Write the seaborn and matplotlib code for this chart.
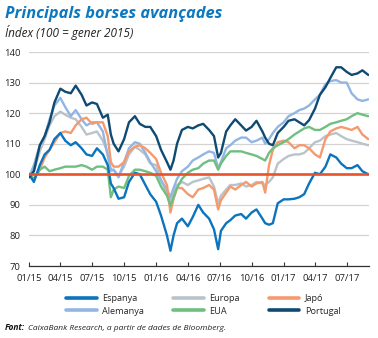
import numpy as np
import pandas as pd
import matplotlib
matplotlib.use("Agg")
import matplotlib.pyplot as plt
import seaborn as sns
from matplotlib.lines import Line2D

# ---- data (index 100 = Jan 2015) ----
dates = [
    "2015-01-01", "2015-01-15", "2015-02-01", "2015-02-15", "2015-03-01", "2015-03-15",
    "2015-04-01", "2015-04-15", "2015-05-01", "2015-05-15", "2015-06-01", "2015-06-15",
    "2015-07-01", "2015-07-15", "2015-08-01", "2015-08-15", "2015-08-24", "2015-09-01",
    "2015-09-15", "2015-10-01", "2015-10-15", "2015-11-01", "2015-11-15", "2015-12-01",
    "2015-12-15", "2016-01-01", "2016-01-15", "2016-02-01", "2016-02-11", "2016-02-20",
    "2016-03-01", "2016-03-15", "2016-04-01", "2016-04-15", "2016-05-01", "2016-05-15",
    "2016-06-01", "2016-06-15", "2016-06-27", "2016-07-05", "2016-07-20", "2016-08-01",
    "2016-08-15", "2016-09-01", "2016-09-15", "2016-10-01", "2016-10-15", "2016-11-01",
    "2016-11-09", "2016-11-20", "2016-12-01", "2016-12-15", "2017-01-01", "2017-01-15",
    "2017-02-01", "2017-02-15", "2017-03-01", "2017-03-15", "2017-04-01", "2017-04-15",
    "2017-05-01", "2017-05-15", "2017-06-01", "2017-06-15", "2017-07-01", "2017-07-15",
    "2017-08-01", "2017-08-15", "2017-09-01",
]

espanya = [
    100, 97.5, 103, 106.5, 108, 111.5, 113.5, 111, 109.5, 110.5, 108.5, 106.5,
    106, 108.5, 106.5, 103, 97, 95.5, 92, 92.5, 97.5, 100.5, 100, 96.5,
    93.5, 91, 86.5, 80, 75, 80, 84, 85.5, 83, 86, 90, 87.5,
    85.5, 82, 75.5, 81.5, 84, 85, 86.5, 87, 85.5, 87.5, 88.5, 85.5,
    84, 83.5, 84, 90.5, 91.8, 91.8, 92, 92.5, 93.5, 97, 100.5, 100,
    102.5, 106.5, 105.5, 103.5, 102, 102, 103, 101, 100,
]

europa = [
    100, 101, 107.5, 111.5, 116, 119, 120.5, 119.5, 118.5, 118, 115.5, 113,
    113.5, 114, 111, 107, 101, 101.5, 99.5, 102.5, 106.5, 109, 108, 106.5,
    103.5, 103, 98, 94, 90.8, 94, 96.5, 97.5, 96.5, 97.5, 98, 98.5,
    99, 96, 90.5, 93, 95, 96.5, 96.5, 97, 96, 96.5, 97.5, 97,
    96.5, 97.5, 99, 103.5, 105, 106, 106.5, 106.5, 107, 108.5, 110.5, 111,
    112.5, 113, 113.5, 112.5, 111.5, 111, 110.5, 110, 109.5,
]

japo = [
    100, 98.5, 101.5, 105.5, 108, 110.5, 113.5, 114, 113.5, 116, 118, 118.5,
    116.5, 117, 117, 112.5, 104, 102.5, 102.5, 104, 107.5, 109, 109.5, 108.5,
    107, 105, 100.5, 96.5, 87.5, 92, 95.5, 95.5, 93.5, 92.5, 95, 95.5,
    96.5, 95, 88.5, 91.5, 94, 96, 95, 96.5, 97.5, 96, 97, 97.5,
    94, 103, 108, 110.5, 111, 110.5, 108.5, 109.5, 109.5, 108.5, 106.5, 105.5,
    111.5, 114, 115, 115.5, 115, 114.5, 115.5, 113, 111.5,
]

alemanya = [
    99, 103, 109.5, 112.5, 118, 122.5, 125, 122, 119, 121, 118, 116,
    117, 117, 114, 106, 101.5, 101.5, 99, 104, 108.5, 110.5, 110, 107,
    104, 101, 98, 95, 92.5, 95.5, 98.5, 101, 102.5, 104.5, 105.5, 106.5,
    107.5, 107, 102, 104, 108.5, 109.5, 111, 112, 112, 110.5, 111, 112,
    110, 111.5, 113.5, 115.5, 117, 119, 120, 121, 121.5, 122.5, 124.5, 126,
    129.5, 130.5, 130.8, 130, 130, 126.5, 124.5, 124, 124.5,
]

eua = [
    100, 98.5, 101.5, 102.5, 101, 101.5, 102, 102.5, 102.5, 102.5, 103, 102.5,
    101.5, 102.5, 102.5, 101.5, 92.5, 95, 96, 95.5, 99.5, 101.5, 101.5, 101,
    100.5, 99.5, 96, 93, 89.7, 92.5, 95.5, 98.5, 100.5, 101.5, 102, 103.5,
    104.5, 104.5, 101.5, 103.5, 106, 107.5, 107.5, 107.5, 107, 106.5, 106, 105,
    104.5, 107, 108.5, 109.5, 110.5, 111.5, 113, 114, 115, 115.5, 114.5, 114.5,
    115.5, 116.5, 117, 117.5, 118, 119, 120, 119.5, 119,
]

portugal = [
    99, 101, 109.5, 112.5, 117, 123.5, 128, 127, 126.5, 129, 126, 122.5,
    123.5, 123, 118.5, 119.5, 113, 110, 107.5, 111.5, 117, 119, 116.5, 115.5,
    115.5, 112.5, 108, 104, 101.5, 104.5, 110, 114.5, 115.5, 115, 116, 116.5,
    114.5, 112.5, 105.5, 107, 114, 116, 118, 116, 114.3, 115.5, 117.5, 114,
    112, 110, 109.5, 113.5, 115.5, 117.5, 118, 117, 116, 117.7, 121.5, 126,
    128.5, 131.5, 135, 135, 133.5, 132.5, 133, 134, 132.5,
]

series_names = ["Espanya", "Europa", "Japó", "Alemanya", "EUA", "Portugal"]
series_colors = ["#0b74bd", "#b9c3c9", "#f59a6f", "#92b6e4", "#6fbf80", "#0e4a72"]
tick_dates = ["2015-01-01", "2015-04-01", "2015-07-01", "2015-10-01", "2016-01-01",
              "2016-04-01", "2016-07-01", "2016-10-01", "2017-01-01", "2017-04-01",
              "2017-07-01"]
tick_labels = ["01/15", "04/15", "07/15", "10/15", "01/16", "04/16", "07/16",
               "10/16", "01/17", "04/17", "07/17"]
y_ticks = [70, 80, 90, 100, 110, 120, 130, 140]

# ---- build long table ----
wide = pd.DataFrame({
    "date": pd.to_datetime(dates),
    "Espanya": espanya, "Europa": europa, "Japó": japo,
    "Alemanya": alemanya, "EUA": eua, "Portugal": portugal,
})
df = wide.melt(id_vars="date", var_name="serie", value_name="valor")
palette = dict(zip(series_names, series_colors))

sns.set_theme(style="white")
plt.rcParams['font.family'] = ['Open Sans', 'DejaVu Sans']

W, H = 378, 338
fig = plt.figure(figsize=(W / 100, H / 100), dpi=100)
ax = fig.add_axes([29 / W, 72 / H, 340 / W, 214 / H])

draw_order = ["Europa", "Alemanya", "Japó", "EUA", "Espanya", "Portugal"]
sns.lineplot(data=df, x="date", y="valor", hue="serie", hue_order=draw_order,
             palette=palette, linewidth=1.7, ax=ax, legend=False)

ax.axhline(100, color="#e8532b", lw=1.9, zorder=10)

ax.set_ylim(70, 140)
ax.set_xlim(pd.Timestamp("2015-01-01"), pd.Timestamp("2017-09-03"))
ax.set_yticks(y_ticks)
ax.set_yticklabels([str(v) for v in y_ticks])
ax.set_xticks(pd.to_datetime(tick_dates))
ax.set_xticklabels(tick_labels)
ax.set_xlabel("")
ax.set_ylabel("")

ax.grid(axis="y", color="#d3d3d3", lw=0.9)
ax.grid(axis="x", visible=False)
for s in ["left", "right", "top"]:
    ax.spines[s].set_visible(False)
ax.spines["bottom"].set_color("#333333")
ax.spines["bottom"].set_linewidth(0.9)
ax.spines["bottom"].set_zorder(11)

ax.tick_params(axis="y", length=0, pad=6, labelsize=6.8, labelcolor="#222222")
ax.tick_params(axis="x", direction="in", length=3, width=0.8, color="#333333",
               pad=6, labelsize=6.8, labelcolor="#222222", bottom=True)

# legend
legend_order = ["Espanya", "Alemanya", "Europa", "EUA", "Japó", "Portugal"]
handles = [Line2D([0], [0], color=palette[n], lw=2.6) for n in legend_order]
fig.legend(handles, legend_order, ncol=3, loc="center",
           bbox_to_anchor=(0.538, 1 - 305 / H), frameon=False, fontsize=6.6,
           handlelength=3.3, handletextpad=0.6, columnspacing=3.2,
           labelspacing=0.35, borderaxespad=0)

# titles
fig.text(5 / W, 1 - 14 / H, "Principals borses avançades", color="#0b78c0",
         fontsize=11.8, fontweight="bold", fontstyle="italic", va="center", ha="left")
fig.text(5 / W, 1 - 32 / H, "Índex (100 = gener 2015)", color="#222222",
         fontsize=8.5, fontstyle="italic", va="center", ha="left")

# source
fig.text(5 / W, 1 - 328 / H, "Font:", color="#111111", fontsize=6.0,
         fontweight="bold", fontstyle="italic", va="center", ha="left")
fig.text(28 / W, 1 - 328 / H, "CaixaBank Research, a partir de dades de Bloomberg.",
         color="#222222", fontsize=6.0, fontstyle="italic", va="center", ha="left")

fig.savefig("out.png", dpi=100)
